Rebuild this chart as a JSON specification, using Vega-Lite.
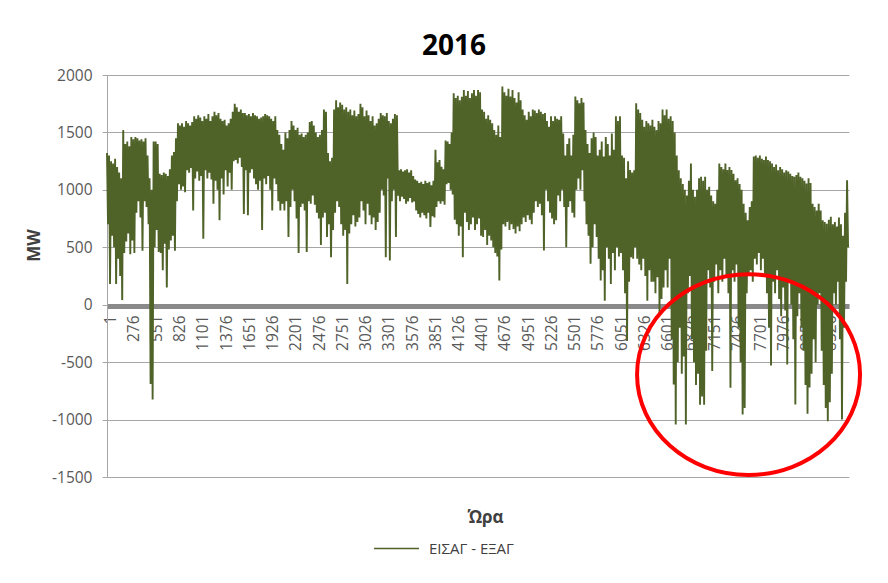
{
"$schema":"https://vega.github.io/schema/vega-lite/v6.json",
"autosize":{"type":"none"},
"width":742,"height":402,
"padding":{"left":107,"top":75,"right":39,"bottom":106},
"background":"#ffffff",
"config":{"font":"Open Sans","view":{"stroke":null},"axisX":{"labelOverlap":false,"labelFlush":false,"labelBound":false}},
"title":{"text":"2016","fontSize":28,"fontWeight":"bold","color":"#000000","anchor":"middle","dx":-24,"offset":7},
"layer":[
{"data":{"values":[
{"h":1,"mw":1320},{"h":13,"mw":700},{"h":25,"mw":1300},{"h":37,"mw":180},{"h":49,"mw":1250},{"h":61,"mw":600},{"h":73,"mw":1230},{"h":85,"mw":500},{"h":97,"mw":1270},{"h":109,"mw":180},
{"h":121,"mw":1200},{"h":133,"mw":400},{"h":145,"mw":1150},{"h":157,"mw":250},{"h":169,"mw":1100},{"h":181,"mw":40},{"h":193,"mw":1520},{"h":205,"mw":450},{"h":217,"mw":1400},{"h":229,"mw":550},
{"h":241,"mw":1420},{"h":253,"mw":620},{"h":265,"mw":1380},{"h":277,"mw":440},{"h":289,"mw":1460},{"h":301,"mw":560},{"h":313,"mw":1440},{"h":325,"mw":450},{"h":337,"mw":1460},{"h":349,"mw":800},
{"h":361,"mw":1450},{"h":373,"mw":900},{"h":385,"mw":1430},{"h":397,"mw":760},{"h":409,"mw":1440},{"h":421,"mw":470},{"h":433,"mw":1420},{"h":445,"mw":900},{"h":457,"mw":1450},{"h":469,"mw":850},
{"h":481,"mw":1300},{"h":493,"mw":700},{"h":505,"mw":1100},{"h":517,"mw":-690},{"h":529,"mw":1000},{"h":541,"mw":-825},{"h":553,"mw":1420},{"h":565,"mw":500},{"h":577,"mw":1420},{"h":589,"mw":650},
{"h":601,"mw":1400},{"h":613,"mw":460},{"h":625,"mw":1140},{"h":637,"mw":450},{"h":649,"mw":1130},{"h":661,"mw":300},{"h":673,"mw":1150},{"h":685,"mw":530},{"h":697,"mw":1140},{"h":709,"mw":150},
{"h":721,"mw":1120},{"h":733,"mw":480},{"h":745,"mw":1180},{"h":757,"mw":560},{"h":769,"mw":1300},{"h":781,"mw":600},{"h":793,"mw":1330},{"h":805,"mw":470},{"h":817,"mw":1450},{"h":829,"mw":900},
{"h":841,"mw":1580},{"h":853,"mw":1050},{"h":865,"mw":1560},{"h":877,"mw":1000},{"h":889,"mw":1580},{"h":901,"mw":1030},{"h":913,"mw":1550},{"h":925,"mw":980},{"h":937,"mw":1600},{"h":949,"mw":1170},
{"h":961,"mw":1580},{"h":973,"mw":1150},{"h":985,"mw":1560},{"h":997,"mw":1190},{"h":1009,"mw":1590},{"h":1021,"mw":820},{"h":1033,"mw":1640},{"h":1045,"mw":1100},{"h":1057,"mw":1620},{"h":1069,"mw":1160},
{"h":1081,"mw":1650},{"h":1093,"mw":1080},{"h":1105,"mw":1630},{"h":1117,"mw":1120},{"h":1129,"mw":1600},{"h":1141,"mw":575},{"h":1153,"mw":1640},{"h":1165,"mw":1170},{"h":1177,"mw":1620},{"h":1189,"mw":1100},
{"h":1201,"mw":1660},{"h":1213,"mw":1150},{"h":1225,"mw":1600},{"h":1237,"mw":1090},{"h":1249,"mw":1640},{"h":1261,"mw":880},{"h":1273,"mw":1680},{"h":1285,"mw":1080},{"h":1297,"mw":1650},{"h":1309,"mw":1000},
{"h":1321,"mw":1670},{"h":1333,"mw":735},{"h":1345,"mw":1620},{"h":1357,"mw":1100},{"h":1369,"mw":1600},{"h":1381,"mw":960},{"h":1393,"mw":1610},{"h":1405,"mw":1170},{"h":1417,"mw":1560},{"h":1429,"mw":1030},
{"h":1441,"mw":1580},{"h":1453,"mw":1150},{"h":1465,"mw":1620},{"h":1477,"mw":1000},{"h":1489,"mw":1680},{"h":1501,"mw":1250},{"h":1513,"mw":1750},{"h":1525,"mw":1260},{"h":1537,"mw":1720},{"h":1549,"mw":1230},
{"h":1561,"mw":1680},{"h":1573,"mw":1280},{"h":1585,"mw":1700},{"h":1597,"mw":1200},{"h":1609,"mw":1670},{"h":1621,"mw":790},{"h":1633,"mw":1670},{"h":1645,"mw":1170},{"h":1657,"mw":1650},{"h":1669,"mw":780},
{"h":1681,"mw":1660},{"h":1693,"mw":1150},{"h":1705,"mw":1640},{"h":1717,"mw":1180},{"h":1729,"mw":1670},{"h":1741,"mw":1100},{"h":1753,"mw":1650},{"h":1765,"mw":1050},{"h":1777,"mw":1640},{"h":1789,"mw":1000},
{"h":1801,"mw":1620},{"h":1813,"mw":1080},{"h":1825,"mw":1630},{"h":1837,"mw":650},{"h":1849,"mw":1640},{"h":1861,"mw":1100},{"h":1873,"mw":1660},{"h":1885,"mw":1050},{"h":1897,"mw":1650},{"h":1909,"mw":1120},
{"h":1921,"mw":1640},{"h":1933,"mw":1000},{"h":1945,"mw":1620},{"h":1957,"mw":820},{"h":1969,"mw":1600},{"h":1981,"mw":1100},{"h":1993,"mw":1640},{"h":2005,"mw":1050},{"h":2017,"mw":1520},{"h":2029,"mw":900},
{"h":2041,"mw":1480},{"h":2053,"mw":820},{"h":2065,"mw":1400},{"h":2077,"mw":880},{"h":2089,"mw":1350},{"h":2101,"mw":820},{"h":2113,"mw":1500},{"h":2125,"mw":900},{"h":2137,"mw":1450},{"h":2149,"mw":590},
{"h":2161,"mw":1520},{"h":2173,"mw":850},{"h":2185,"mw":1600},{"h":2197,"mw":1000},{"h":2209,"mw":1560},{"h":2221,"mw":900},{"h":2233,"mw":1520},{"h":2245,"mw":750},{"h":2257,"mw":1540},{"h":2269,"mw":450},
{"h":2281,"mw":1480},{"h":2293,"mw":850},{"h":2305,"mw":1490},{"h":2317,"mw":880},{"h":2329,"mw":1460},{"h":2341,"mw":820},{"h":2353,"mw":1480},{"h":2365,"mw":460},{"h":2377,"mw":1500},{"h":2389,"mw":900},
{"h":2401,"mw":1590},{"h":2413,"mw":880},{"h":2425,"mw":1600},{"h":2437,"mw":950},{"h":2449,"mw":1560},{"h":2461,"mw":870},{"h":2473,"mw":1500},{"h":2485,"mw":800},{"h":2497,"mw":1460},{"h":2509,"mw":750},
{"h":2521,"mw":1480},{"h":2533,"mw":520},{"h":2545,"mw":1520},{"h":2557,"mw":760},{"h":2569,"mw":1700},{"h":2581,"mw":800},{"h":2593,"mw":1680},{"h":2605,"mw":589},{"h":2617,"mw":1320},{"h":2629,"mw":700},
{"h":2641,"mw":1250},{"h":2653,"mw":414},{"h":2665,"mw":1280},{"h":2677,"mw":650},{"h":2689,"mw":1700},{"h":2701,"mw":800},{"h":2713,"mw":1780},{"h":2725,"mw":900},{"h":2737,"mw":1720},{"h":2749,"mw":850},
{"h":2761,"mw":1760},{"h":2773,"mw":700},{"h":2785,"mw":1740},{"h":2797,"mw":600},{"h":2809,"mw":1700},{"h":2821,"mw":650},{"h":2833,"mw":1720},{"h":2845,"mw":181},{"h":2857,"mw":1680},{"h":2869,"mw":620},
{"h":2881,"mw":1700},{"h":2893,"mw":700},{"h":2905,"mw":1650},{"h":2917,"mw":780},{"h":2929,"mw":1690},{"h":2941,"mw":680},{"h":2953,"mw":1640},{"h":2965,"mw":720},{"h":2977,"mw":1660},{"h":2989,"mw":760},
{"h":3001,"mw":1750},{"h":3013,"mw":900},{"h":3025,"mw":1720},{"h":3037,"mw":820},{"h":3049,"mw":1640},{"h":3061,"mw":700},{"h":3073,"mw":1690},{"h":3085,"mw":880},{"h":3097,"mw":1650},{"h":3109,"mw":780},
{"h":3121,"mw":1600},{"h":3133,"mw":700},{"h":3145,"mw":1640},{"h":3157,"mw":760},{"h":3169,"mw":1560},{"h":3181,"mw":650},{"h":3193,"mw":1580},{"h":3205,"mw":720},{"h":3217,"mw":1620},{"h":3229,"mw":800},
{"h":3241,"mw":1670},{"h":3253,"mw":1000},{"h":3265,"mw":1650},{"h":3277,"mw":950},{"h":3289,"mw":1640},{"h":3301,"mw":414},{"h":3313,"mw":1670},{"h":3325,"mw":1100},{"h":3337,"mw":1600},{"h":3349,"mw":385},
{"h":3361,"mw":1580},{"h":3373,"mw":900},{"h":3385,"mw":1620},{"h":3397,"mw":1000},{"h":3409,"mw":1660},{"h":3421,"mw":589},{"h":3433,"mw":1650},{"h":3445,"mw":950},{"h":3457,"mw":1170},{"h":3469,"mw":900},
{"h":3481,"mw":1180},{"h":3493,"mw":940},{"h":3505,"mw":1160},{"h":3517,"mw":920},{"h":3529,"mw":1170},{"h":3541,"mw":880},{"h":3553,"mw":1180},{"h":3565,"mw":900},{"h":3577,"mw":1150},{"h":3589,"mw":930},
{"h":3601,"mw":1170},{"h":3613,"mw":890},{"h":3625,"mw":1120},{"h":3637,"mw":900},{"h":3649,"mw":1090},{"h":3661,"mw":820},{"h":3673,"mw":1080},{"h":3685,"mw":790},{"h":3697,"mw":1060},{"h":3709,"mw":760},
{"h":3721,"mw":1070},{"h":3733,"mw":800},{"h":3745,"mw":1050},{"h":3757,"mw":780},{"h":3769,"mw":1080},{"h":3781,"mw":750},{"h":3793,"mw":1060},{"h":3805,"mw":800},{"h":3817,"mw":1070},{"h":3829,"mw":676},
{"h":3841,"mw":1040},{"h":3853,"mw":770},{"h":3865,"mw":1080},{"h":3877,"mw":760},{"h":3889,"mw":1350},{"h":3901,"mw":850},{"h":3913,"mw":1240},{"h":3925,"mw":900},{"h":3937,"mw":1260},{"h":3949,"mw":880},
{"h":3961,"mw":1200},{"h":3973,"mw":900},{"h":3985,"mw":1180},{"h":3997,"mw":870},{"h":4009,"mw":1430},{"h":4021,"mw":1050},{"h":4033,"mw":1420},{"h":4045,"mw":1060},{"h":4057,"mw":1400},{"h":4069,"mw":1000},
{"h":4081,"mw":1500},{"h":4093,"mw":960},{"h":4105,"mw":1840},{"h":4117,"mw":740},{"h":4129,"mw":1800},{"h":4141,"mw":700},{"h":4153,"mw":1820},{"h":4165,"mw":600},{"h":4177,"mw":1780},{"h":4189,"mw":680},
{"h":4201,"mw":1810},{"h":4213,"mw":414},{"h":4225,"mw":1870},{"h":4237,"mw":800},{"h":4249,"mw":1820},{"h":4261,"mw":720},{"h":4273,"mw":1860},{"h":4285,"mw":650},{"h":4297,"mw":1800},{"h":4309,"mw":700},
{"h":4321,"mw":1840},{"h":4333,"mw":760},{"h":4345,"mw":1870},{"h":4357,"mw":650},{"h":4369,"mw":1820},{"h":4381,"mw":700},{"h":4393,"mw":1870},{"h":4405,"mw":750},{"h":4417,"mw":1850},{"h":4429,"mw":600},
{"h":4441,"mw":1700},{"h":4453,"mw":589},{"h":4465,"mw":1680},{"h":4477,"mw":650},{"h":4489,"mw":1620},{"h":4501,"mw":520},{"h":4513,"mw":1650},{"h":4525,"mw":600},{"h":4537,"mw":1610},{"h":4549,"mw":560},
{"h":4561,"mw":1580},{"h":4573,"mw":500},{"h":4585,"mw":1520},{"h":4597,"mw":450},{"h":4609,"mw":1480},{"h":4621,"mw":420},{"h":4633,"mw":1560},{"h":4645,"mw":210},{"h":4657,"mw":1460},{"h":4669,"mw":480},
{"h":4681,"mw":1900},{"h":4693,"mw":700},{"h":4705,"mw":1850},{"h":4717,"mw":680},{"h":4729,"mw":1820},{"h":4741,"mw":720},{"h":4753,"mw":1880},{"h":4765,"mw":650},{"h":4777,"mw":1813},{"h":4789,"mw":700},
{"h":4801,"mw":1870},{"h":4813,"mw":660},{"h":4825,"mw":1800},{"h":4837,"mw":620},{"h":4849,"mw":1760},{"h":4861,"mw":680},{"h":4873,"mw":1850},{"h":4885,"mw":640},{"h":4897,"mw":1780},{"h":4909,"mw":700},
{"h":4921,"mw":1700},{"h":4933,"mw":760},{"h":4945,"mw":1650},{"h":4957,"mw":720},{"h":4969,"mw":1610},{"h":4981,"mw":780},{"h":4993,"mw":1680},{"h":5005,"mw":740},{"h":5017,"mw":1640},{"h":5029,"mw":700},
{"h":5041,"mw":1700},{"h":5053,"mw":800},{"h":5065,"mw":1690},{"h":5077,"mw":900},{"h":5089,"mw":1670},{"h":5101,"mw":850},{"h":5113,"mw":1700},{"h":5125,"mw":880},{"h":5137,"mw":1680},{"h":5149,"mw":780},
{"h":5161,"mw":1660},{"h":5173,"mw":472},{"h":5185,"mw":1670},{"h":5197,"mw":1000},{"h":5209,"mw":1600},{"h":5221,"mw":900},{"h":5233,"mw":1550},{"h":5245,"mw":800},{"h":5257,"mw":1640},{"h":5269,"mw":750},
{"h":5281,"mw":1600},{"h":5293,"mw":700},{"h":5305,"mw":1640},{"h":5317,"mw":735},{"h":5329,"mw":1620},{"h":5341,"mw":950},{"h":5353,"mw":1610},{"h":5365,"mw":900},{"h":5377,"mw":1640},{"h":5389,"mw":1000},
{"h":5401,"mw":1490},{"h":5413,"mw":850},{"h":5425,"mw":1300},{"h":5437,"mw":500},{"h":5449,"mw":1400},{"h":5461,"mw":850},{"h":5473,"mw":1450},{"h":5485,"mw":900},{"h":5497,"mw":1300},{"h":5509,"mw":800},
{"h":5521,"mw":1480},{"h":5533,"mw":760},{"h":5545,"mw":1813},{"h":5557,"mw":1000},{"h":5569,"mw":1780},{"h":5581,"mw":1100},{"h":5593,"mw":1755},{"h":5605,"mw":1000},{"h":5617,"mw":1800},{"h":5629,"mw":1170},
{"h":5641,"mw":1760},{"h":5653,"mw":900},{"h":5665,"mw":1520},{"h":5677,"mw":700},{"h":5689,"mw":1400},{"h":5701,"mw":600},{"h":5713,"mw":1320},{"h":5725,"mw":356},{"h":5737,"mw":1450},{"h":5749,"mw":500},
{"h":5761,"mw":1500},{"h":5773,"mw":700},{"h":5785,"mw":1460},{"h":5797,"mw":589},{"h":5809,"mw":1300},{"h":5821,"mw":400},{"h":5833,"mw":1350},{"h":5845,"mw":210},{"h":5857,"mw":1420},{"h":5869,"mw":300},
{"h":5881,"mw":1290},{"h":5893,"mw":35},{"h":5905,"mw":1460},{"h":5917,"mw":500},{"h":5929,"mw":1400},{"h":5941,"mw":400},{"h":5953,"mw":1300},{"h":5965,"mw":181},{"h":5977,"mw":1490},{"h":5989,"mw":450},
{"h":6001,"mw":1350},{"h":6013,"mw":300},{"h":6025,"mw":1640},{"h":6037,"mw":500},{"h":6049,"mw":1600},{"h":6061,"mw":420},{"h":6073,"mw":1640},{"h":6085,"mw":450},{"h":6097,"mw":1300},{"h":6109,"mw":300},
{"h":6121,"mw":1280},{"h":6133,"mw":100},{"h":6145,"mw":1100},{"h":6157,"mw":-315},{"h":6169,"mw":1250},{"h":6181,"mw":200},{"h":6193,"mw":1172},{"h":6205,"mw":414},{"h":6217,"mw":1150},{"h":6229,"mw":400},
{"h":6241,"mw":1170},{"h":6253,"mw":500},{"h":6265,"mw":1755},{"h":6277,"mw":400},{"h":6289,"mw":1700},{"h":6301,"mw":350},{"h":6313,"mw":1670},{"h":6325,"mw":300},{"h":6337,"mw":1610},{"h":6349,"mw":400},
{"h":6361,"mw":1550},{"h":6373,"mw":250},{"h":6385,"mw":1600},{"h":6397,"mw":35},{"h":6409,"mw":1580},{"h":6421,"mw":300},{"h":6433,"mw":1560},{"h":6445,"mw":200},{"h":6457,"mw":1610},{"h":6469,"mw":200},
{"h":6481,"mw":1550},{"h":6493,"mw":100},{"h":6505,"mw":1520},{"h":6517,"mw":239},{"h":6529,"mw":1600},{"h":6541,"mw":-82},{"h":6553,"mw":1580},{"h":6565,"mw":50},{"h":6577,"mw":1700},{"h":6589,"mw":150},
{"h":6601,"mw":1650},{"h":6613,"mw":300},{"h":6625,"mw":1700},{"h":6637,"mw":150},{"h":6649,"mw":1620},{"h":6661,"mw":400},{"h":6673,"mw":1640},{"h":6685,"mw":-300},{"h":6697,"mw":1600},{"h":6709,"mw":-694},
{"h":6721,"mw":1500},{"h":6733,"mw":-1043},{"h":6745,"mw":1300},{"h":6757,"mw":-500},{"h":6769,"mw":1170},{"h":6781,"mw":-200},{"h":6793,"mw":1100},{"h":6805,"mw":-600},{"h":6817,"mw":1050},{"h":6829,"mw":-450},
{"h":6841,"mw":1000},{"h":6853,"mw":-1043},{"h":6865,"mw":950},{"h":6877,"mw":100},{"h":6889,"mw":1080},{"h":6901,"mw":250},{"h":6913,"mw":1230},{"h":6925,"mw":-300},{"h":6937,"mw":1000},{"h":6949,"mw":-500},
{"h":6961,"mw":940},{"h":6973,"mw":-700},{"h":6985,"mw":1000},{"h":6997,"mw":-600},{"h":7009,"mw":1100},{"h":7021,"mw":-870},{"h":7033,"mw":1114},{"h":7045,"mw":-800},{"h":7057,"mw":1080},{"h":7069,"mw":-870},
{"h":7081,"mw":1114},{"h":7093,"mw":-400},{"h":7105,"mw":1000},{"h":7117,"mw":300},{"h":7129,"mw":1026},{"h":7141,"mw":150},{"h":7153,"mw":950},{"h":7165,"mw":-577},{"h":7177,"mw":900},{"h":7189,"mw":200},
{"h":7201,"mw":880},{"h":7213,"mw":350},{"h":7225,"mw":1000},{"h":7237,"mw":100},{"h":7249,"mw":1230},{"h":7261,"mw":300},{"h":7273,"mw":1200},{"h":7285,"mw":200},{"h":7297,"mw":1180},{"h":7309,"mw":400},
{"h":7321,"mw":1230},{"h":7333,"mw":250},{"h":7345,"mw":1172},{"h":7357,"mw":100},{"h":7369,"mw":1200},{"h":7381,"mw":-723},{"h":7393,"mw":1172},{"h":7405,"mw":300},{"h":7417,"mw":1140},{"h":7429,"mw":200},
{"h":7441,"mw":1084},{"h":7453,"mw":350},{"h":7465,"mw":1100},{"h":7477,"mw":-200},{"h":7489,"mw":1050},{"h":7501,"mw":-500},{"h":7513,"mw":1000},{"h":7525,"mw":-956},{"h":7537,"mw":880},{"h":7549,"mw":-900},
{"h":7561,"mw":800},{"h":7573,"mw":100},{"h":7585,"mw":735},{"h":7597,"mw":250},{"h":7609,"mw":850},{"h":7621,"mw":300},{"h":7633,"mw":900},{"h":7645,"mw":200},{"h":7657,"mw":1290},{"h":7669,"mw":400},
{"h":7681,"mw":1300},{"h":7693,"mw":350},{"h":7705,"mw":1280},{"h":7717,"mw":450},{"h":7729,"mw":1300},{"h":7741,"mw":300},{"h":7753,"mw":1270},{"h":7765,"mw":400},{"h":7777,"mw":1260},{"h":7789,"mw":250},
{"h":7801,"mw":1290},{"h":7813,"mw":100},{"h":7825,"mw":1260},{"h":7837,"mw":-200},{"h":7849,"mw":1250},{"h":7861,"mw":-530},{"h":7873,"mw":1230},{"h":7885,"mw":200},{"h":7897,"mw":1200},{"h":7909,"mw":100},
{"h":7921,"mw":1220},{"h":7933,"mw":300},{"h":7945,"mw":1170},{"h":7957,"mw":50},{"h":7969,"mw":1200},{"h":7981,"mw":-100},{"h":7993,"mw":1180},{"h":8005,"mw":150},{"h":8017,"mw":1150},{"h":8029,"mw":-50},
{"h":8041,"mw":1170},{"h":8053,"mw":-520},{"h":8065,"mw":1160},{"h":8077,"mw":200},{"h":8089,"mw":1140},{"h":8101,"mw":0},{"h":8113,"mw":1120},{"h":8125,"mw":-300},{"h":8137,"mw":1115},{"h":8149,"mw":-869},
{"h":8161,"mw":1130},{"h":8173,"mw":-100},{"h":8185,"mw":1150},{"h":8197,"mw":100},{"h":8209,"mw":1114},{"h":8221,"mw":-200},{"h":8233,"mw":1100},{"h":8245,"mw":-400},{"h":8257,"mw":1080},{"h":8269,"mw":-700},
{"h":8281,"mw":1055},{"h":8293,"mw":-950},{"h":8305,"mw":1100},{"h":8317,"mw":-720},{"h":8329,"mw":1060},{"h":8341,"mw":-600},{"h":8353,"mw":880},{"h":8365,"mw":-300},{"h":8377,"mw":850},{"h":8389,"mw":-500},
{"h":8401,"mw":820},{"h":8413,"mw":0},{"h":8425,"mw":880},{"h":8437,"mw":100},{"h":8449,"mw":820},{"h":8461,"mw":-400},{"h":8473,"mw":735},{"h":8485,"mw":-700},{"h":8497,"mw":720},{"h":8509,"mw":-900},
{"h":8521,"mw":705},{"h":8533,"mw":-1014},{"h":8545,"mw":740},{"h":8557,"mw":-850},{"h":8569,"mw":765},{"h":8581,"mw":-600},{"h":8593,"mw":700},{"h":8605,"mw":100},{"h":8617,"mw":720},{"h":8629,"mw":0},
{"h":8641,"mw":680},{"h":8653,"mw":200},{"h":8665,"mw":760},{"h":8677,"mw":-300},{"h":8689,"mw":700},{"h":8701,"mw":-1000},{"h":8713,"mw":600},{"h":8725,"mw":-200},{"h":8737,"mw":800},{"h":8749,"mw":200},
{"h":8761,"mw":1084},{"h":8773,"mw":500}
]},
"mark":{"type":"line","strokeWidth":1.9,"interpolate":"linear"},
"encoding":{
"x":{"field":"h","type":"quantitative","scale":{"domain":[1,8784],"nice":false,"zero":false},
 "axis":{"orient":"bottom","offset":-171,"values":[1,276,551,826,1101,1376,1651,1926,2201,2476,2751,3026,3301,3576,3851,4126,4401,4676,4951,5226,5501,5776,6051,6326,6601,6876,7151,7426,7701,7976,8251,8526],
 "labelExpr":"'' + datum.value","labelAngle":270,"labelAlign":"right","labelBaseline":"middle","labelFontSize":15.5,"labelColor":"#595959","labelPadding":9,"labelOffset":3,"labelOverlap":false,"labelFlush":false,"labelBound":false,
 "ticks":false,"grid":false,"domainColor":"#8a8a8a","domainWidth":5,
 "title":"Ώρα","titleFontSize":17,"titleFontWeight":"bold","titleColor":"#404040","titleX":378,"titleY":211,"titleAlign":"center","titleBaseline":"middle"}},
"y":{"field":"mw","type":"quantitative","scale":{"domain":[-1500,2000],"nice":false,"zero":false},
 "axis":{"values":[-1500,-1000,-500,0,500,1000,1500,2000],"labelExpr":"'' + datum.value","grid":true,"gridColor":"#a6a6a6","gridWidth":1,
 "domainColor":"#a6a6a6","ticks":true,"tickSize":5,"tickColor":"#a6a6a6","labelFontSize":15.5,"labelColor":"#595959","labelPadding":10,
 "title":"MW","titleFontSize":17,"titleFontWeight":"bold","titleColor":"#404040","titleAngle":270,"titleX":-73,"titleY":170,"titleAlign":"center","titleBaseline":"middle"}},
"stroke":{"datum":"ΕΙΣΑΓ - ΕΞΑΓ","type":"nominal","scale":{"range":["#4f6228"]},
 "legend":{"orient":"none","legendX":266,"legendY":450,"title":null,"padding":0,"symbolType":"stroke","symbolSize":2025,"symbolStrokeWidth":1.3,"labelFontSize":15,"labelColor":"#404040","labelOffset":9}}
}},
{"data":{"values":[{"h":7595,"mw":-608}]},
"mark":{"type":"point","shape":"M -1 0 A 1 0.9 0 1 0 1 0 A 1 0.9 0 1 0 -1 0 Z","size":49729,"filled":false,"stroke":"#ff0000","strokeWidth":4,"opacity":1},
"encoding":{"x":{"field":"h","type":"quantitative","axis":{"labelOverlap":false,"values":[1,276,551,826,1101,1376,1651,1926,2201,2476,2751,3026,3301,3576,3851,4126,4401,4676,4951,5226,5501,5776,6051,6326,6601,6876,7151,7426,7701,7976,8251,8526]}},"y":{"field":"mw","type":"quantitative"}}}
]
}
